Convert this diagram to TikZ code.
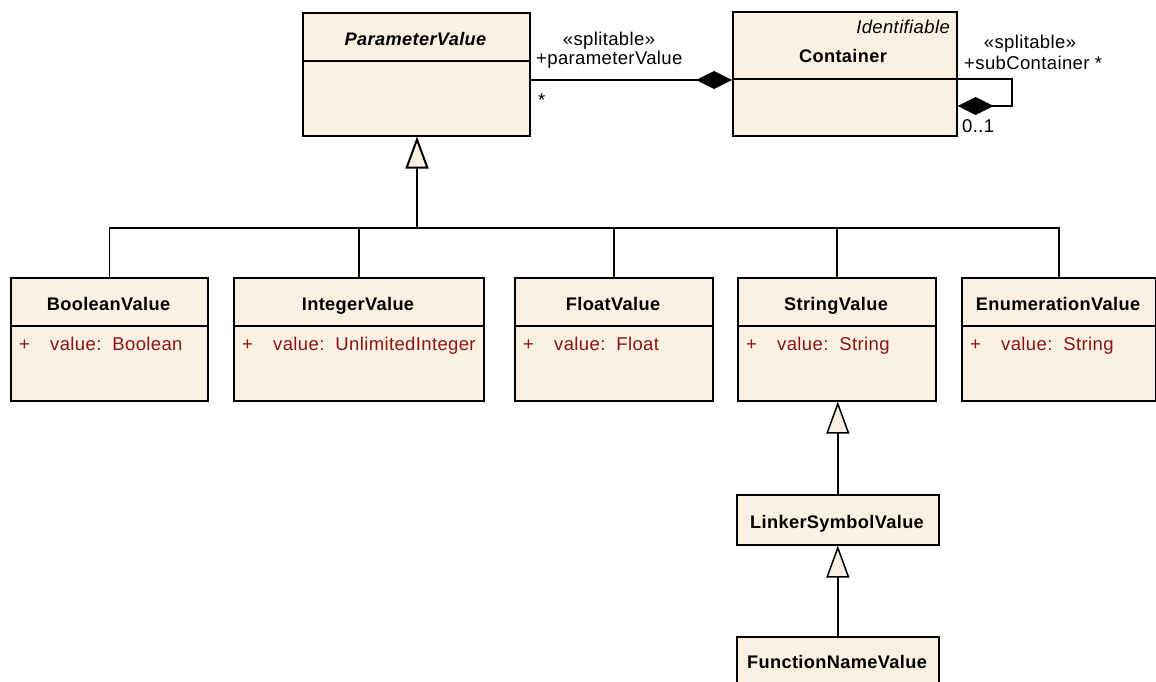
\documentclass[tikz,border=0pt]{standalone}
\usepackage{fontspec}
\setmainfont{Liberation Sans}[LetterSpace=2]
\usetikzlibrary{arrows.meta}
\definecolor{umlfill}{RGB}{251,241,227}
\definecolor{attrred}{RGB}{140,20,20}
\tikzset{
  cls/.style={draw=black, line width=1.6pt, fill=umlfill, anchor=north west, inner sep=0pt},
  divline/.style={line width=1.6pt},
  cname/.style={font=\fontsize{18.2}{22}\selectfont\bfseries, anchor=base, inner sep=0pt},
  aname/.style={font=\fontsize{18.2}{22}\selectfont\bfseries\itshape, anchor=base, inner sep=0pt},
  stereo/.style={font=\fontsize{18.5}{22}\selectfont\itshape, anchor=base east, inner sep=0pt},
  attr/.style={font=\fontsize{18.5}{22}\selectfont, text=attrred, anchor=base west, inner sep=0pt},
  lbl/.style={font=\fontsize{18.5}{22}\selectfont, anchor=base, inner sep=0pt},
  lblw/.style={font=\fontsize{18.5}{22}\selectfont, anchor=base west, inner sep=0pt},
  conn/.style={line width=1.5pt},
  gen/.style={line width=1.5pt, -{Triangle[length=32pt,width=23pt,fill=umlfill]}},
  comp/.style={line width=1.5pt, -{Diamond[length=36pt,width=18pt]}},
}
\begin{document}
\begin{tikzpicture}[x=1pt,y=-1pt]
\useasboundingbox[fill=white] (0,0) rectangle (1156,682);

% ParameterValue
\node[cls, minimum width=227pt, minimum height=123pt] (pv) at (302,12) {};
\draw[divline] (302,61) -- (529,61);
\node[aname] (pvname) at (415.5,46) {ParameterValue};

% Container
\node[cls, minimum width=224pt, minimum height=124pt] (cont) at (732,11) {};
\draw[divline] (732,79) -- (956,79);
\node[stereo] (contst) at (950,34) {Identifiable};
\node[cname] (contname) at (843,63) {Container};

% bottom row
\node[cls, minimum width=197pt, minimum height=123pt] (bv) at (10,277) {};
\draw[divline] (10,326) -- (207,326);
\node[cname] (bvname) at (108.5,310) {BooleanValue};
\node[attr] (bvplus) at (19,350) {+};
\node[attr] (bvattr) at (50,350) {value:\ \ Boolean};

\node[cls, minimum width=250pt, minimum height=123pt] (iv) at (233,277) {};
\draw[divline] (233,326) -- (483,326);
\node[cname] (ivname) at (358,310) {IntegerValue};
\node[attr] (ivplus) at (242,350) {+};
\node[attr] (ivattr) at (273,350) {value:\ \ UnlimitedInteger};

\node[cls, minimum width=198pt, minimum height=123pt] (fv) at (514,277) {};
\draw[divline] (514,326) -- (712,326);
\node[cname] (fvname) at (613,310) {FloatValue};
\node[attr] (fvplus) at (523,350) {+};
\node[attr] (fvattr) at (554,350) {value:\ \ Float};

\node[cls, minimum width=198pt, minimum height=123pt] (sv) at (737,277) {};
\draw[divline] (737,326) -- (935,326);
\node[cname] (svname) at (836,310) {StringValue};
\node[attr] (svplus) at (746,350) {+};
\node[attr] (svattr) at (777,350) {value:\ \ String};

\node[cls, minimum width=194pt, minimum height=123pt] (ev) at (961,277) {};
\draw[divline] (961,326) -- (1155,326);
\node[cname] (evname) at (1058,310) {EnumerationValue};
\node[attr] (evplus) at (970,350) {+};
\node[attr] (evattr) at (1001,350) {value:\ \ String};

% LinkerSymbolValue and FunctionNameValue
\node[cls, minimum width=202pt, minimum height=50pt] (lsv) at (736,494) {};
\node[cname] (lsvname) at (837,528) {LinkerSymbolValue};
\node[cls, minimum width=202pt, minimum height=70pt] (fnv) at (736,636) {};
\node[cname] (fnvname) at (837,668) {FunctionNameValue};

% generalization tree
\coordinate (bus) at (417,228);
\draw[conn] (bv.north) |- (bus);
\draw[conn] (iv.north) |- (bus);
\draw[conn] (fv.north) |- (bus);
\draw[conn] (sv.north) |- (bus);
\draw[conn] (ev.north) |- (bus);
\draw[gen, line width=2pt] (bus) -- (bus |- pv.south);

\draw[gen] (lsv.north) -- (lsv.north |- sv.south);
\draw[gen] (fnv.north) -- (fnv.north |- lsv.south);

% composition ParameterValue - Container
\draw[comp] (pv.east |- 0,80) -- (cont.west |- 0,80);
\node[lbl] (st1) at (609,46) {«splitable»};
\node[lblw] (role1) at (536,65) {+parameterValue};
\node[lblw] (mult1) at (538,107) {*};

% self composition on Container
\coordinate (loopA) at (1012,79);
\coordinate (loopB) at (1012,106);
\draw[comp] (cont.east |- 0,79) -- (loopA) -- (loopB) -- (cont.east |- 0,106);
\node[lbl] (st2) at (1030,49) {«splitable»};
\node[lblw] (role2) at (964,70) {+subContainer *};
\node[lblw] (mult2) at (962,132) {0..1};
\end{tikzpicture}
\end{document}
